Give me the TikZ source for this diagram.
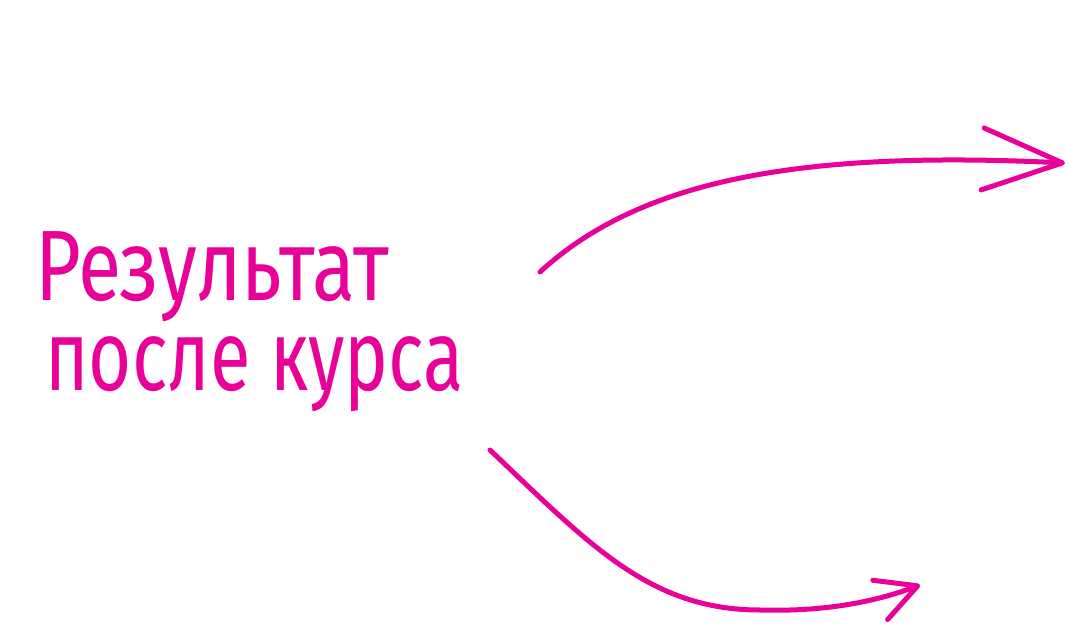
\documentclass[tikz,border=0pt]{standalone}
\usepackage{fontspec}
\setmainfont{Fira Sans}
\usetikzlibrary{arrows.meta, positioning}
\definecolor{hotpink}{RGB}{232,0,152}

\begin{document}
\begin{tikzpicture}[
		x=1pt, y=-1pt,
		% handwritten-like label and pen strokes
		label/.style={text=hotpink, font=\fontsize{100}{80}\selectfont, anchor=base west, inner sep=0pt},
		pen/.style={draw=hotpink, line width=5pt, line cap=round, line join=round},
		bigtip/.style={-{Straight Barb[length=80pt, width=62pt, line width=5pt, round]}},
		smalltip/.style={-{Straight Barb[length=40pt, width=42pt, line width=5pt, round]}}
		]
		\useasboundingbox (0,0) rectangle (1069,629);
		
		% ==========================================
		% TITLE
		% ==========================================
		\node[label] (result) at (35,300) {\scalebox{0.79}[1]{Результат}};
		\node[label] (course) at (45,390) {\scalebox{0.74}[1]{после курса}};
		
		% ==========================================
		% ARROWS
		% ==========================================
		\coordinate (upstart) at (540,272);
		\coordinate (upend) at (1065,163);
		\coordinate (lowstart) at (490,450);
		\coordinate (lowend) at (920,585);
		
		\draw[pen, bigtip] (upstart) .. controls (640,180) and (800,150) .. (upend);
		\draw[pen, smalltip] (lowstart) .. controls (590,545) and (650,610) .. (760,610) .. controls (830,612) and (880,600) .. (lowend);
		
	\end{tikzpicture}
\end{document}
